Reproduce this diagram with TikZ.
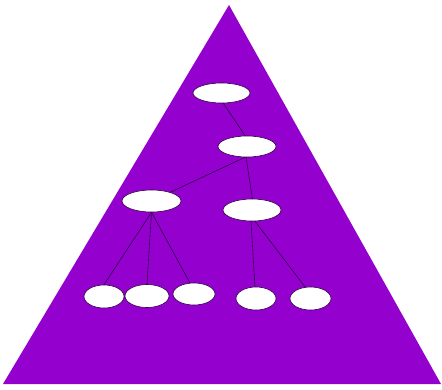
\documentclass[tikz,border=0pt]{standalone}
\usetikzlibrary{shapes.geometric}
\definecolor{violetfill}{RGB}{148,0,206}
\definecolor{edgecol}{RGB}{45,0,70}
\begin{document}
\begin{tikzpicture}[x=1pt,y=-1pt,
  oval/.style={ellipse,draw=edgecol,fill=white,line width=0.6pt,inner sep=0pt,minimum width=#1},
  oval/.default=58pt,
  link/.style={draw=edgecol,line width=0.6pt}]
\useasboundingbox (0,0) rectangle (442,389);
\fill[violetfill] (229,5) -- (441,384) -- (3,384) -- cycle;
\node[oval=57pt,minimum height=20pt] (r) at (221.5,93) {};
\node[oval=58pt,minimum height=21pt] (a) at (247,146.5) {};
\node[oval=59pt,minimum height=22pt] (b) at (151.5,201) {};
\node[oval=58pt,minimum height=22pt] (c) at (252,210) {};
\node[oval=40pt,minimum height=23pt] (l1) at (104,296.5) {};
\node[oval=44pt,minimum height=23pt] (l2) at (147,296) {};
\node[oval=42pt,minimum height=22pt] (l3) at (194,294) {};
\node[oval=40pt,minimum height=23pt] (l4) at (256,298.5) {};
\node[oval=41pt,minimum height=23pt] (l5) at (310.5,298.5) {};
\draw[link] (r.-80) -- (a.100);
\draw[link] (a.-100) -- (b.25);
\draw[link] (a.-95) -- (c.88);
\draw[link] (b.south) -- (l1.north);
\draw[link] (b.south) -- (l2.north);
\draw[link] (b.south) -- (l3.110);
\draw[link] (c.-95) -- (l4.95);
\draw[link] (c.-75) -- (l5.115);
\end{tikzpicture}
\end{document}
